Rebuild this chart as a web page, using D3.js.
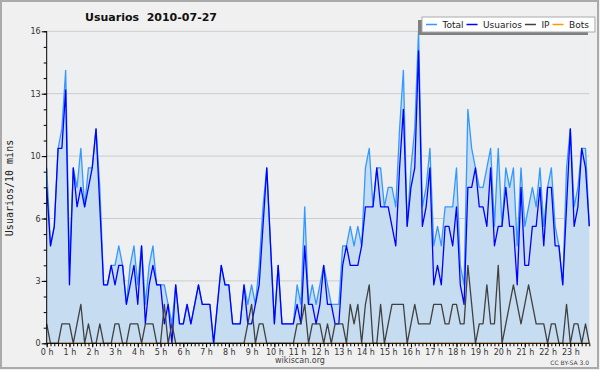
<!DOCTYPE html>
<html lang="es">
<head>
<meta charset="UTF-8"/>
<title>Usuarios 2010-07-27</title>
<style>
  * { margin:0; padding:0; box-sizing:border-box }
  body { background:#f0f0f0; width:600px; height:370px; overflow:hidden; }
  svg { display:block; font-family:'DejaVu Sans',sans-serif; }
</style>
</head>
<body>
<div id="chart"></div>

<script src="https://d3js.org/d3.v7.min.js"></script>
<script>
// ── data: one value per 10 minutes (144 slots) ──
const hours = ["0 h","1 h","2 h","3 h","4 h","5 h","6 h","7 h","8 h","9 h","10 h","11 h",
               "12 h","13 h","14 h","15 h","16 h","17 h","18 h","19 h","20 h","21 h","22 h","23 h"];

const total = [
  9,5,6,10,11,14, 4,9,8,10,7,9, 9,11,8,3,3,4, 4,5,4,2,4,5,
  3,5,2,4,5,3, 3,3,2,1,3,1, 1,2,1,2,3,2, 2,2,0,2,4,3,
  3,1,1,1,3,2, 3,2,4,7,9,5, 1,4,1,1,1,1, 3,2,7,2,3,2,
  3,4,3,2,2,2, 5,5,6,5,6,5, 9,10,7,9,9,7, 8,8,7,11,14,6,
  9,11,16,7,8,10, 5,6,5,7,7,7, 9,4,3,12,10,9, 8,8,9,10,6,10,
  6,9,8,9,5,9, 6,7,8,7,9,6, 8,9,6,5,3,9, 11,7,8,10,10,6
];
const usuarios = [
  8,5,6,10,10,13, 3,9,7,8,7,8, 9,11,7,3,3,4, 3,4,4,2,3,4,
  2,5,1,3,4,3, 3,1,2,0,3,1, 1,2,1,2,3,2, 2,2,0,2,4,3,
  3,1,1,1,3,1, 1,2,3,6,9,5, 1,4,1,1,1,1, 2,1,5,2,2,1,
  2,4,2,2,1,1, 4,5,4,4,4,5, 7,7,7,9,7,7, 7,6,5,9,12,6,
  8,9,15,6,7,9, 3,4,3,6,6,5, 7,3,2,8,8,9, 7,7,6,9,5,6,
  6,8,6,6,3,8, 4,4,6,6,8,5, 8,8,5,5,3,7, 11,6,7,10,9,6
];
const ip = [
  1,0,0,0,1,1, 1,0,1,2,0,1, 0,0,1,0,0,0, 1,1,0,0,1,1,
  1,0,1,1,1,0, 0,2,0,1,0,0, 0,0,0,0,0,0, 0,0,0,0,0,0,
  0,0,0,0,0,1, 2,0,1,1,0,0, 0,0,0,0,0,0, 1,1,2,0,1,1,
  1,0,1,0,1,1, 1,0,2,1,2,0, 2,3,0,0,2,0, 1,2,2,2,2,0,
  1,2,1,1,1,1, 2,2,2,1,1,2, 2,1,1,4,2,0, 1,1,3,1,1,4,
  0,1,2,3,2,1, 2,3,2,1,1,1, 0,1,1,0,0,2, 0,1,1,0,1,0
];
const bots = [
  0,0,0,0,0,0, 0,0,0,0,0,0, 0,0,0,0,0,0, 0,0,0,0,0,0,
  0,0,0,0,0,0, 0,0,0,0,0,0, 0,0,0,0,0,0, 0,0,0,0,0,0,
  0,0,0,0,0,0, 0,0,0,0,0,0, 0,0,0,0,0,0, 0,0,0,0,0,0,
  0,0,0,0,0,0, 0,0,0,0,0,0, 0,0,0,0,0,0, 0,0,0,0,0,0,
  0,0,0,0,0,0, 0,0,0,0,0,0, 0,0,0,0,0,0, 0,0,0,0,0,0,
  0,0,0,0,0,0, 0,0,0,0,0,0, 0,0,0,0,0,0, 0,0,0,0,0,0
];
const yTicks = [0, 3.2, 6.4, 9.6, 12.8, 16];

const names  = ["Total","Usuarios","IP","Bots"];
const colors = { Total:"#3399ff", Usuarios:"#0000ff", IP:"#404040", Bots:"#ff9900" };

// ── setup ──
const width = 600, height = 370;
const mLeft = 46.7, mRight = 589.3, mTop = 31.3, mBottom = 343.3;

const x = d3.scaleLinear().domain([0, total.length - 1]).range([mLeft, mRight]);
const y = d3.scaleLinear().domain([0, 16]).range([mBottom, mTop]);

const svg = d3.select("#chart").append("svg")
  .attr("width", width).attr("height", height);

svg.append("rect")
  .attr("x", 1).attr("y", 1).attr("width", 597).attr("height", 367)
  .attr("fill", "#f0f0f0").attr("stroke", "#aaa").attr("stroke-width", 2);

svg.append("rect")
  .attr("x", mLeft).attr("y", mTop).attr("width", mRight - mLeft).attr("height", mBottom - mTop)
  .attr("fill", "#eeeff1");

// grid
svg.append("g").selectAll("line")
  .data(yTicks.slice(1))
  .join("line")
  .attr("x1", mLeft).attr("x2", mRight)
  .attr("y1", d => y(d)).attr("y2", d => y(d))
  .attr("stroke", "#cccccc").attr("stroke-width", 1);

// area + lines
const idx = d3.range(total.length);
svg.append("path")
  .attr("d", d3.area().x(i => x(i)).y0(mBottom).y1(i => y(total[i]))(idx))
  .attr("fill", "#c6dcf0");

const line = arr => d3.line().x(i => x(i)).y(i => y(arr[i]))(idx);
[["Bots", bots], ["Total", total], ["Usuarios", usuarios], ["IP", ip]].forEach(([n, arr]) => {
  svg.append("path")
    .attr("d", line(arr))
    .attr("fill", "none")
    .attr("stroke", colors[n])
    .attr("stroke-width", 1.3)
    .attr("stroke-linejoin", "round");
});

// axes
const yMinor = d3.axisLeft(y).tickValues(d3.range(0, 16.01, 0.8)).tickSize(3).tickFormat("");
const yMajor = d3.axisLeft(y).tickValues(yTicks).tickSize(5).tickPadding(1)
  .tickFormat(d => Math.round(d));
const xMinor = d3.axisBottom(x).tickValues(idx).tickSize(3).tickFormat("");
const xMajor = d3.axisBottom(x).tickValues(d3.range(0, 144, 6)).tickSize(4).tickPadding(2)
  .tickFormat((d, i) => hours[i]);

[yMinor, yMajor].forEach(a => {
  svg.append("g").attr("transform", `translate(${mLeft},0)`).call(a)
    .call(g => g.select(".domain").remove());
});
[xMinor, xMajor].forEach(a => {
  svg.append("g").attr("transform", `translate(0,${mBottom})`).call(a)
    .call(g => g.select(".domain").remove());
});
svg.selectAll(".tick text")
  .attr("font-family", "'DejaVu Sans',sans-serif")
  .attr("font-size", 8).attr("fill", "#333");
svg.selectAll(".tick line").attr("stroke", "#000");

svg.append("line").attr("x1", mLeft).attr("x2", mLeft).attr("y1", mTop).attr("y2", mBottom)
  .attr("stroke", "#000");
svg.append("line").attr("x1", mLeft).attr("x2", mRight).attr("y1", mBottom).attr("y2", mBottom)
  .attr("stroke", "#000");

// titles
svg.append("text")
  .attr("x", 151).attr("y", 20.5).attr("text-anchor", "middle")
  .attr("font-size", 11).attr("font-weight", "bold").attr("fill", "#111")
  .style("white-space", "pre")
  .text("Usuarios  2010-07-27");

svg.append("text")
  .attr("transform", "translate(13,188) rotate(-90)")
  .attr("text-anchor", "middle")
  .attr("font-family", "'DejaVu Sans Mono',monospace")
  .attr("font-size", 10).attr("fill", "#222")
  .text("Usuarios/10 mins");

svg.append("text")
  .attr("x", 300).attr("y", 363).attr("text-anchor", "middle")
  .attr("font-size", 8).attr("fill", "#444")
  .text("wikiscan.org");

svg.append("text")
  .attr("x", 589).attr("y", 365).attr("text-anchor", "end")
  .attr("font-size", 6).attr("fill", "#444")
  .text("CC BY-SA 3.0");

// legend
const lg = svg.append("g");
const shadow = lg.append("rect").attr("fill", "#808080");
const box = lg.append("rect").attr("fill", "#fff").attr("stroke", "#aaa");
let cx = 426;
names.forEach(n => {
  lg.append("line")
    .attr("x1", cx).attr("x2", cx + 11).attr("y1", 24.5).attr("y2", 24.5)
    .attr("stroke", colors[n]).attr("stroke-width", 1.5);
  const t = lg.append("text")
    .attr("x", cx + 16.5).attr("y", 28)
    .attr("font-size", 9).attr("fill", "#222")
    .text(n);
  cx += 16.5 + t.node().getComputedTextLength() + 3;
});
const bx = 422, by = 17, bw = cx - bx + 3, bh = 15;
box.attr("x", bx).attr("y", by).attr("width", bw).attr("height", bh);
shadow.attr("x", bx - 4).attr("y", by + 3).attr("width", bw - 3).attr("height", bh);
</script>
</body>
</html>
